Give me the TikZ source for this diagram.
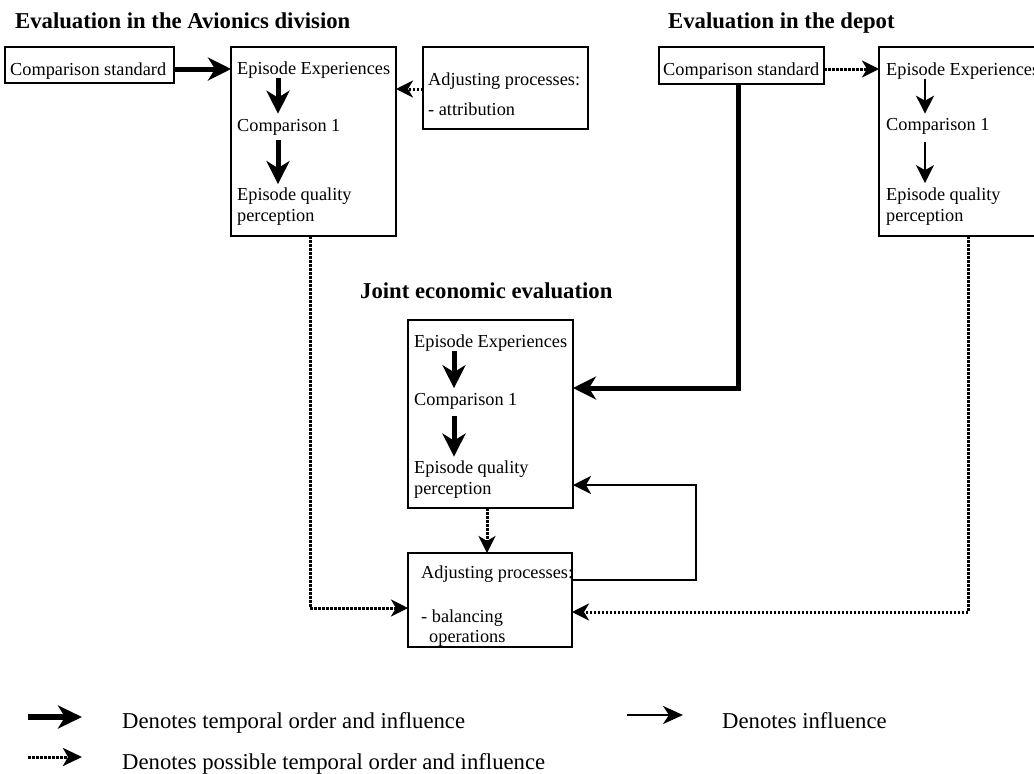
\documentclass[tikz,border=0pt]{standalone}
\usepackage{fontspec}
\setmainfont{Liberation Serif}
\usetikzlibrary{arrows.meta}
\begin{document}
\begin{tikzpicture}[x=1pt,y=-1pt,
  box/.style={draw, line width=2.2pt, inner sep=0pt, outer sep=0pt},
  txt/.style={anchor=base west, inner sep=0pt, font=\fontsize{18.3}{21}\selectfont},
  ttl/.style={anchor=base west, inner sep=0pt, font=\fontsize{22.7}{26}\selectfont\bfseries},
  leg/.style={anchor=base west, inner sep=0pt, font=\fontsize{22.7}{26}\selectfont},
  strong/.style={line width=5pt, -{Stealth[length=23pt,width=23pt,inset=7pt]}},
  weak/.style={line width=2pt, -{Stealth[length=18pt,width=18pt,inset=5pt]}},
  maybe/.style={line width=3pt, dash pattern=on 2.5pt off 1.5pt, -{Stealth[length=17pt,width=17pt,inset=5pt]}},
]
\useasboundingbox (0,0) rectangle (1034,774);
\clip (0,0) rectangle (1034,774);

% headings
\node[ttl] (t1) at (15,28) {Evaluation in the Avionics division};
\node[ttl] (t2) at (668,28) {Evaluation in the depot};
\node[ttl] (t3) at (360,298) {Joint economic evaluation};

% boxes
\node[box, minimum width=169pt, minimum height=36pt] (cs1) at (89.5,65) {};
\node[box, minimum width=165pt, minimum height=189pt] (ee1) at (313.5,141.5) {};
\node[box, minimum width=165pt, minimum height=82pt] (adj1) at (505.5,88) {};
\node[box, minimum width=165pt, minimum height=37pt] (cs2) at (741.5,65.5) {};
\node[box, minimum width=165pt, minimum height=189pt] (ee2) at (961.5,141.5) {};
\node[box, minimum width=165pt, minimum height=188pt] (eej) at (490.5,414) {};
\node[box, minimum width=164pt, minimum height=94pt] (acp) at (490,600) {};

% Avionics division
\node[txt] (cs1t) at (10,75) {Comparison standard};
\node[txt] (ee1a) at (237,74) {Episode Experiences};
\node[txt] (ee1b) at (237,131) {Comparison 1};
\node[txt] (ee1c) at (237,200) {Episode quality};
\node[txt] (ee1d) at (237,221) {perception};
\node[txt] (adj1a) at (428,85) {Adjusting processes:};
\node[txt] (adj1b) at (428,115) {- attribution};

% depot
\node[txt] (cs2t) at (663,75) {Comparison standard};
\node[txt] (ee2a) at (886,75) {Episode Experiences};
\node[txt] (ee2b) at (886,130) {Comparison 1};
\node[txt] (ee2c) at (886,200) {Episode quality};
\node[txt] (ee2d) at (886,221) {perception};

% joint evaluation
\node[txt] (eeja) at (414,347) {Episode Experiences};
\node[txt] (eejb) at (414,405) {Comparison 1};
\node[txt] (eejc) at (414,473) {Episode quality};
\node[txt] (eejd) at (414,494) {perception};
\node[txt] (acpa) at (421,578) {Adjusting processes:};
\node[txt] (acpb) at (421,622) {- balancing};
\node[txt] (acpc) at (429,642) {operations};

% steps inside the boxes
\draw[strong, shorten >=5pt] (ee1a.south -| 278,0) -- (ee1b.north -| 278,0);
\draw[strong, shorten <=5pt, shorten >=3pt] (ee1b.south -| 278,0) -- (ee1c.north -| 278,0);
\draw[weak, shorten >=4pt] (ee2a.south -| 925,0) -- (ee2b.north -| 925,0);
\draw[weak, shorten <=8pt, shorten >=4pt] (ee2b.south -| 925,0) -- (ee2c.north -| 925,0);
\draw[strong, shorten >=4.5pt] (eeja.south -| 454,0) -- (eejb.north -| 454,0);
\draw[strong, shorten <=7pt, shorten >=3.5pt] (eejb.south -| 454,0) -- (eejc.north -| 454,0);

% connectors between boxes
\draw[strong] (cs1.east |- 0,69) -- (ee1.west |- 0,69);
\draw[maybe] (adj1.west |- 0,89) -- (ee1.east |- 0,89);
\draw[maybe] (ee1.south -| 310,0) |- (acp.west |- 0,608);
\draw[maybe] (cs2.east |- 0,69) -- (ee2.west |- 0,69);
\draw[strong] (cs2.south -| 738,0) |- (eej.east |- 0,388);
\draw[maybe] (ee2.south -| 968,0) |- (acp.east |- 0,612);
\draw[maybe] (eej.south -| 487,0) -- (acp.north -| 487,0);
\coordinate (fb) at (696,485);
\draw[weak] (acp.east |- 0,580) -| (fb) -- (eej.east |- fb);

% legend
\coordinate (l1a) at (28,717);
\coordinate (l2a) at (28,757);
\coordinate (l3a) at (627,715);
\node[leg] (leg1) at (122,728) {Denotes temporal order and influence};
\node[leg] (leg2) at (122,769) {Denotes possible temporal order and influence};
\node[leg] (leg3) at (722,728) {Denotes influence};
\draw[line width=5.5pt, -{Stealth[length=24pt,width=23pt,inset=7pt]}] (l1a) -- ++(54,0);
\draw[maybe, -{Stealth[length=19pt,width=18pt,inset=5pt]}] (l2a) -- ++(54,0);
\draw[line width=2.5pt, -{Stealth[length=20pt,width=18pt,inset=6pt]}] (l3a) -- ++(56,0);
\end{tikzpicture}
\end{document}
